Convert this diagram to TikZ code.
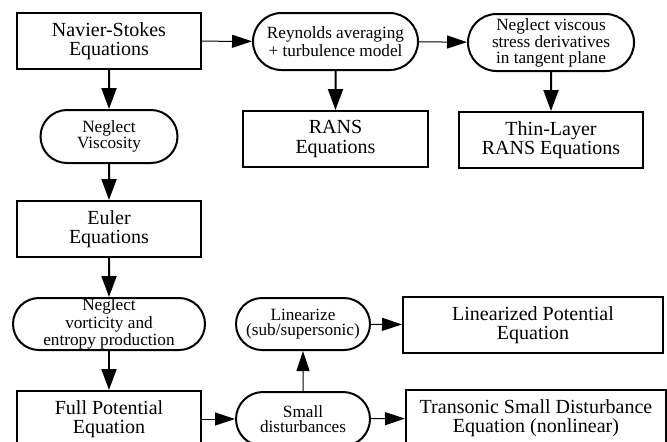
\documentclass[tikz,border=0pt]{standalone}
\usepackage{fontspec}
\setmainfont{Liberation Serif}
\usetikzlibrary{arrows.meta,shapes.misc}

\tikzset{
    eqbox/.style={draw, line width=1pt, inner sep=0pt, align=center,
      font=\fontsize{10}{9.6}\selectfont},
    stepnode/.style={draw, rounded rectangle, line width=1pt, inner sep=0pt,
      align=center, font=\fontsize{8.6}{7.7}\selectfont},
    thick arrow/.style={line width=1pt, -{Triangle[length=10.5pt,width=7.5pt]}},
    thin arrow/.style={line width=0.5pt, -{Triangle[length=10pt,width=6.5pt]}}
}

\begin{document}
\begin{tikzpicture}[x=0.5pt, y=-0.5pt]
    \useasboundingbox (0,0) rectangle (667,441);
    % left column
    \node[eqbox, minimum width=92pt, minimum height=28pt] (ns) at (109,41) {Navier-Stokes\\Equations};
    \node[stepnode, minimum width=68.5pt, minimum height=26.5pt] (visc) at (109,136.5) {Neglect\\Viscosity};
    \node[eqbox, minimum width=92pt, minimum height=28pt] (euler) at (109,229) {Euler\\Equations};
    \node[stepnode, minimum width=96pt, minimum height=26pt] (vort) at (109,324) {Neglect\\vorticity and\\entropy production};
    \node[eqbox, minimum width=92pt, minimum height=28pt] (fullpot) at (109,419) {Full Potential\\Equation};
    % top row
    \node[stepnode, minimum width=82.5pt, minimum height=28.5pt] (reyn) at (335.5,41.5) {Reynolds averaging\\+ turbulence model};
    \node[stepnode, minimum width=83pt, minimum height=28.5pt] (thinstep) at (551,42.5) {Neglect viscous\\stress derivatives\\in tangent plane};
    \node[eqbox, minimum width=92.5pt, minimum height=28pt] (rans) at (335.5,139) {RANS\\Equations};
    \node[eqbox, minimum width=92pt, minimum height=28pt] (thinrans) at (551,140) {Thin-Layer\\RANS Equations};
    % bottom right
    \node[stepnode, minimum width=67pt, minimum height=26pt] (lin) at (303,324) {Linearize\\(sub/supersonic)};
    \node[stepnode, minimum width=67pt, minimum height=27pt] (small) at (303,419) {Small\\disturbances};
    \node[eqbox, minimum width=130pt, minimum height=28pt] (linpot) at (533,325) {Linearized Potential\\Equation};
    \node[eqbox, minimum width=130pt, minimum height=28pt] (tsd) at (536,418) {Transonic Small Disturbance\\Equation (nonlinear)};

    \draw[thick arrow] (ns) -- (visc);
    \draw[thick arrow] (visc) -- (euler);
    \draw[thick arrow] (euler) -- (vort);
    \draw[thick arrow] (vort) -- (fullpot);
    \draw[thick arrow] (reyn) -- (rans);
    \draw[thick arrow] (thinstep) -- (thinrans);
    \draw[thin arrow] (ns) -- (reyn);
    \draw[thin arrow] (reyn) -- (thinstep);
    \draw[thin arrow] (fullpot) -- (small);
    \draw[thin arrow] (small) -- (lin);
    \draw[thin arrow] (lin) -- (linpot);
    \draw[thin arrow] (small) -- (tsd);
\end{tikzpicture}
\end{document}
